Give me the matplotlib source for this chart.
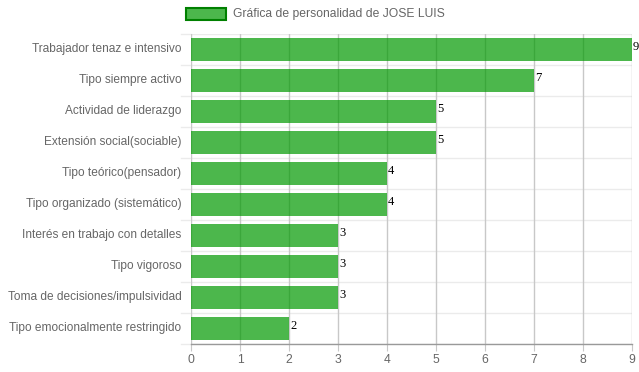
import matplotlib
matplotlib.use("Agg")
import matplotlib.pyplot as plt
from matplotlib.patches import Rectangle

categories = [
    "Trabajador tenaz e intensivo",
    "Tipo siempre activo",
    "Actividad de liderazgo",
    "Extensión social(sociable)",
    "Tipo teórico(pensador)",
    "Tipo organizado (sistemático)",
    "Interés en trabajo con detalles",
    "Tipo vigoroso",
    "Toma de decisiones/impulsividad",
    "Tipo emocionalmente restringido",
]
values = [9, 7, 5, 5, 4, 4, 3, 3, 3, 2]
series_label = "Gráfica de personalidad de JOSE LUIS"
x_ticks = list(range(0, 10))

bar_color = (0.0, 0.6, 0.0, 0.7)
edge_green = (0.0, 0.5, 0.0)
text_gray = "#666666"

plt.rcParams['font.family'] = ['Liberation Sans', 'DejaVu Sans']

W, H = 639, 372
fig = plt.figure(figsize=(W / 100, H / 100), dpi=100)
left, right, top, bottom = 191, 632, 34, 344
ax = fig.add_axes([left / W, 1 - bottom / H, (right - left) / W, (bottom - top) / H])

n = len(categories)
ypos = list(range(n))

for xv in x_ticks:
    ax.axvline(xv, color="#c8c8c8", lw=1, zorder=1)
for i in range(n + 1):
    ax.axhline(i - 0.5, color="#ebebeb", lw=1, zorder=0.5)

ax.barh(ypos, values, height=0.72, color=bar_color, zorder=2)

for y, v in zip(ypos, values):
    ax.text(v + 0.02, y - 0.08, str(v), family="Liberation Serif", fontsize=9,
            color="black", va="center", ha="left", zorder=3, clip_on=False)

ax.set_xlim(0, 9)
ax.set_ylim(n - 0.5, -0.5)
ax.set_yticks([y - 0.06 for y in ypos])
ax.set_yticklabels(categories, fontsize=8.6, color=text_gray)
ax.set_xticks(x_ticks)
ax.set_xticklabels([str(t) for t in x_ticks], fontsize=8.7, color=text_gray)
ax.tick_params(axis="y", length=0, pad=7)
ax.tick_params(axis="x", length=5, color="#c8c8c8", pad=2)

for s in ["top", "right", "left"]:
    ax.spines[s].set_visible(False)
ax.spines["bottom"].set_color("#999999")
ax.spines["bottom"].set_linewidth(1)

for i in range(n + 1):
    ax.plot([-10 / 49, 0], [i - 0.5, i - 0.5], color="#ebebeb", lw=1, clip_on=False, zorder=0.5)

lx, ly, lw_, lh = 186, 8, 40, 12
fig.patches.append(Rectangle((lx / W, 1 - (ly + lh) / H), lw_ / W, lh / H,
                             transform=fig.transFigure, facecolor=bar_color,
                             edgecolor=edge_green, linewidth=1.5))
fig.text(233 / W, 1 - 14.5 / H, series_label, fontsize=8.7, color=text_gray,
         va="center", ha="left")

fig.savefig("out.png", dpi=100)
